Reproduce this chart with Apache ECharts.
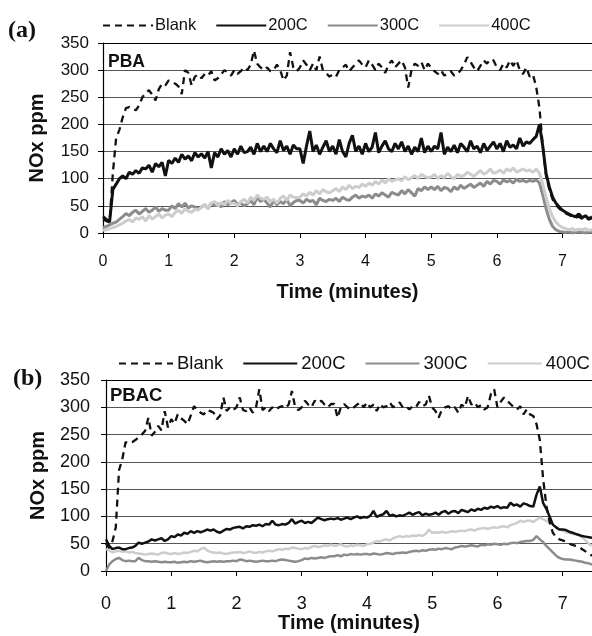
<!DOCTYPE html>
<html>
<head>
<meta charset="utf-8">
<script src="https://cdn.jsdelivr.net/npm/echarts@6/dist/echarts.min.js"></script>
<style>html,body{margin:0;padding:0;background:#fff}#c{width:592px;height:636px}</style>
</head>
<body>
<div id="c"></div>
<script>
// sampling: one value every 0.05 min from t = 0
const tStep = 0.05;
const xTicks = [0,1,2,3,4,5,6,7];
const yTicks = [0,50,100,150,200,250,300,350];
const seriesNames = ['Blank','200C','300C','400C'];

// Panel (a) PBA
const blankA = [
25,22,20,110,175,190,213,230,232,229,
226,235,250,258,263,255,244,265,275,272,
281,278,275,270,256,300,295,272,288,292,
285,293,290,298,281,285,292,300,296,290,
300,293,298,305,300,310,336,312,305,300,
305,298,300,310,300,281,290,333,305,298,
305,318,310,300,312,300,325,300,295,288,
292,288,300,305,310,298,305,312,318,310,
305,318,310,300,312,305,295,310,318,305,
312,318,305,268,300,312,308,315,300,312,
305,298,293,300,290,293,298,290,293,300,
310,324,315,305,298,308,318,312,320,318,
305,300,312,305,318,308,318,300,293,305,
288,292,269,230,160,105,80,62,52,45,
40,36,33,30,28,30,26,28,25,27];
const c200A = [
30,25,20,80,90,100,105,100,112,108,
115,110,120,118,125,112,128,122,130,105,
134,128,138,130,145,136,142,133,148,140,
146,138,150,120,148,140,155,145,152,140,
155,145,160,148,150,158,145,165,150,160,
150,165,155,148,170,152,160,145,162,155,
155,128,160,188,150,162,145,158,170,150,
160,145,172,150,140,165,180,150,160,145,
165,150,158,185,148,160,170,155,150,165,
155,168,150,160,145,158,150,175,148,160,
150,160,155,185,145,158,150,162,148,165,
158,150,170,155,160,148,165,152,160,168,
155,165,150,170,158,162,155,175,160,168,
165,172,178,200,160,110,85,66,55,48,
42,38,35,32,30,35,28,32,26,30];
const c300A = [
10,12,15,18,20,25,30,36,32,38,
42,35,40,45,38,42,48,40,45,42,
42,50,45,54,48,55,46,50,48,44,
48,52,45,55,50,54,48,58,52,56,
60,52,55,50,54,60,52,66,58,62,
55,48,60,52,58,54,62,50,56,60,
60,55,62,58,60,52,64,60,58,62,
60,64,58,66,62,60,66,70,64,68,
66,70,64,72,68,74,70,66,75,72,
70,78,72,80,74,68,82,78,85,80,
85,80,86,78,84,82,76,85,80,88,
82,86,90,84,88,92,86,95,90,97,
95,90,98,94,97,92,99,95,97,94,
97,95,98,92,70,45,25,12,6,3,
2,1,2,0,1,2,1,0,2,1];
const c400A = [
5,6,8,10,12,15,18,22,25,20,
28,25,30,22,32,26,30,35,28,33,
35,30,38,42,36,45,40,38,44,42,
48,52,45,55,58,50,56,52,60,54,
55,50,58,62,55,66,60,70,64,62,
66,58,62,55,64,68,60,70,66,65,
66,72,68,75,70,78,72,80,76,74,
78,82,76,85,80,88,82,86,84,90,
86,92,88,95,90,98,92,100,95,98,
100,96,104,98,102,106,100,108,104,102,
103,108,100,106,102,110,104,100,108,104,
106,112,108,104,110,115,108,112,118,110,
112,116,110,118,114,120,112,115,118,114,
116,112,118,110,90,65,45,30,20,14,
10,8,6,8,5,7,6,8,5,6];

// Panel (b) PBAC
const blankB = [
50,42,55,80,185,205,236,234,236,240,
245,250,257,281,248,255,266,258,293,263,
278,270,287,280,275,269,285,302,295,290,
287,295,293,290,278,285,318,293,300,295,
300,318,295,293,300,290,300,333,295,300,
293,300,295,300,302,298,305,330,300,295,
300,312,305,300,312,308,312,305,300,306,
306,281,300,306,300,296,300,305,309,300,
309,300,305,293,306,300,302,309,300,305,
309,300,302,296,302,300,310,302,305,321,
300,293,281,296,300,302,296,300,290,305,
300,321,305,309,300,304,296,300,324,333,
300,310,318,312,306,300,296,302,287,296,
287,284,269,240,170,120,90,70,62,58,
56,54,50,48,46,44,40,36,32,28];
const c200B = [
58,46,40,42,43,40,40,42,43,46,
52,50,52,54,58,56,58,60,55,58,
64,62,67,65,70,68,73,70,73,71,
73,76,74,76,72,70,74,77,76,79,
80,81,78,82,81,84,83,85,82,86,
85,92,85,84,86,85,88,95,87,90,
92,88,90,88,93,98,95,93,95,96,
95,97,94,96,98,95,98,100,97,99,
98,101,110,99,102,104,110,101,103,100,
102,101,104,107,103,106,108,102,105,103,
104,107,103,108,110,105,109,110,106,112,
110,108,113,110,114,112,116,114,118,116,
119,115,117,116,125,120,122,118,124,122,
119,118,140,155,125,114,100,85,80,76,
76,75,72,70,68,66,64,63,62,61];
const c300B = [
0,12,18,22,24,20,18,19,18,18,
24,20,18,18,17,18,17,16,17,16,
16,17,15,16,17,16,18,17,18,19,
17,16,17,18,17,18,17,18,18,19,
18,21,20,18,19,18,17,18,19,18,
18,19,18,20,21,20,19,18,17,18,
20,23,22,24,23,24,25,24,26,27,
27,29,27,30,29,31,30,31,30,31,
31,30,32,31,30,31,33,32,31,33,
33,34,33,35,36,37,36,38,37,39,
40,39,41,40,42,41,40,43,44,46,
45,46,47,46,45,48,47,49,48,50,
49,48,50,49,51,52,51,53,54,55,
55,57,64,58,53,46,40,34,28,24,
22,21,21,20,19,18,17,15,14,12];
const c400B = [
40,38,34,36,37,35,36,34,35,33,
32,31,30,31,32,31,30,33,34,32,
31,33,31,32,34,33,35,37,36,40,
43,38,35,34,33,34,32,31,33,34,
34,35,33,34,36,34,33,35,34,36,
37,36,38,40,39,41,40,43,42,41,
40,42,41,44,46,44,45,47,46,48,
46,47,49,46,45,47,46,48,47,46,
49,50,52,55,54,57,58,56,60,62,
64,62,64,63,65,64,66,64,68,76,
70,71,70,72,70,71,73,72,73,74,
73,75,76,74,77,78,79,77,79,80,
79,81,82,80,84,86,88,92,90,92,
92,90,94,98,95,92,88,85,80,76,
74,71,70,68,67,66,62,56,50,46];

const toPairs = vals => vals.map((v, i) => [+(i * tStep).toFixed(2), v]);
const xMax = 7.45;
const FONT = '"Liberation Sans", Arial, sans-serif';

const colors = {Blank:'#111', '200C':'#111', '300C':'#8c8c8c', '400C':'#cdcdcd'};

function mkSeries(name, vals, idx, w) {
  const s = {
    name, type:'line', xAxisIndex:idx, yAxisIndex:idx,
    data: toPairs(vals), showSymbol:false, symbol:'none', silent:true,
    lineStyle:{color:colors[name], width:w},
    itemStyle:{color:colors[name]}
  };
  if (name === 'Blank') { s.lineStyle.type = [7,5]; s.lineStyle.width = 2.3; }
  return s;
}

function xAxisCfg(idx, labelSize, labelMargin, nameSize, nameGap) {
  return {
    gridIndex: idx, type:'value', min:0, max:xMax, interval:1,
    axisLine:{show:true, onZero:false, lineStyle:{color:'#000', width:1.2}},
    axisTick:{show:true, inside:false, length:5, lineStyle:{color:'#000'}},
    axisLabel:{fontSize:labelSize, fontFamily:FONT, color:'#111', margin:labelMargin, showMaxLabel:false,
      formatter: v => (xTicks.indexOf(v) >= 0 ? String(v) : '')},
    splitLine:{show:false},
    name:'Time (minutes)', nameLocation:'middle', nameGap:nameGap,
    nameTextStyle:{fontSize:nameSize, fontWeight:'bold', fontFamily:FONT, color:'#111'}
  };
}
function yAxisCfg(idx, labelSize, labelMargin, nameSize, nameGap) {
  return {
    gridIndex: idx, type:'value', min:yTicks[0], max:yTicks[yTicks.length-1], interval:50,
    axisLine:{show:true, lineStyle:{color:'#000', width:1.2}},
    axisTick:{show:true, inside:false, length:5, lineStyle:{color:'#000'}},
    axisLabel:{fontSize:labelSize, fontFamily:FONT, color:'#111', margin:labelMargin},
    splitLine:{show:true, lineStyle:{color:['#000','#555','#555','#555','#555','#555','#555','#000'], width:1.1}},
    name:'NOx ppm', nameLocation:'middle', nameGap:nameGap,
    nameTextStyle:{fontSize:nameSize, fontWeight:'bold', fontFamily:FONT, color:'#111'}
  };
}

const option = {
  animation:false,
  backgroundColor:'#fff',
  grid:[
    {left:103, top:43, width:489, height:190},
    {left:106, top:380, width:486, height:191}
  ],
  xAxis:[xAxisCfg(0,16,21,20,49), xAxisCfg(1,18,24,20,42)],
  yAxis:[yAxisCfg(0,17,14,20,56), yAxisCfg(1,18,16,20,58)],
  legend:[
    {data:seriesNames, left:102, top:17, padding:0, width:490, itemWidth:50, itemHeight:12, itemGap:19,
     itemStyle:{opacity:0},
     textStyle:{fontSize:16.5, fontFamily:FONT, color:'#111', padding:[0,0,0,-3]}},
    {data:seriesNames, left:118, top:354, padding:0, width:474, itemWidth:54, itemHeight:12, itemGap:19,
     itemStyle:{opacity:0},
     textStyle:{fontSize:18.5, fontFamily:FONT, color:'#111', padding:[0,0,0,-1]}}
  ],
  graphic:[
    {type:'text', left:8, top:19, style:{text:'(a)', font:'bold 24px "Liberation Serif", serif', fill:'#111'}},
    {type:'text', left:13, top:367, style:{text:'(b)', font:'bold 24px "Liberation Serif", serif', fill:'#111'}},
    {type:'text', left:108, top:53, z:10, style:{text:'PBA', font:'bold 17.5px "Liberation Sans", Arial, sans-serif', fill:'#111'}},
    {type:'text', left:110, top:386, z:10, style:{text:'PBAC', font:'bold 18.5px "Liberation Sans", Arial, sans-serif', fill:'#111'}}
  ],
  series:[
    mkSeries('300C', c300A, 0, 3), mkSeries('400C', c400A, 0, 3), mkSeries('200C', c200A, 0, 3), mkSeries('Blank', blankA, 0, 2.3),
    mkSeries('300C', c300B, 1, 2.5), mkSeries('400C', c400B, 1, 2.5), mkSeries('200C', c200B, 1, 2.5), mkSeries('Blank', blankB, 1, 2.3)
  ]
};
const chart = echarts.init(document.getElementById('c'), null, {renderer:'canvas'});
chart.setOption(option);
</script>
</body>
</html>
